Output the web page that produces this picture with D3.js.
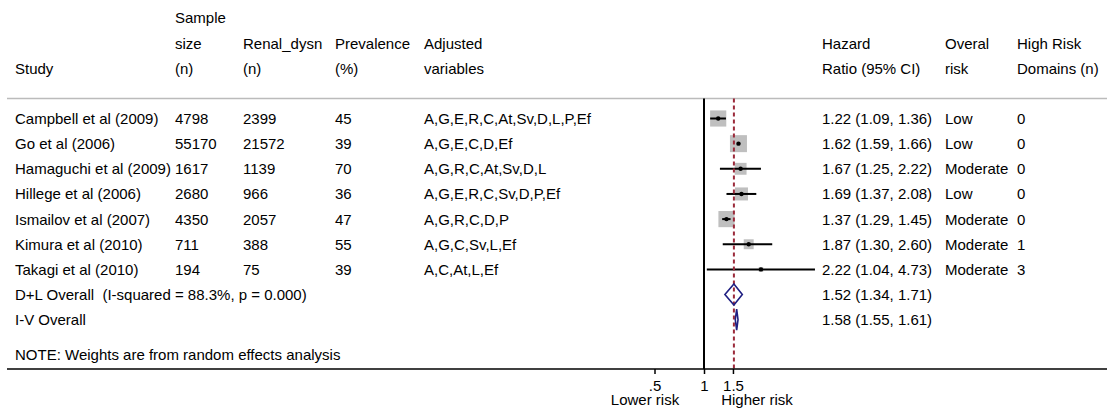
<!DOCTYPE html>
<html>
<head>
<meta charset="utf-8">
<script src="https://cdn.jsdelivr.net/npm/d3@7"></script>
<style>
  body { margin: 0; background: #fff; }
  svg text { font-family: Arial, "Liberation Sans", sans-serif; font-size: 15px; fill: #000; white-space: pre; }
</style>
</head>
<body>
<script>
// chart data
const studies = ['Campbell et al (2009)', 'Go et al (2006)', 'Hamaguchi et al (2009)', 'Hillege et al (2006)',
                 'Ismailov et al (2007)', 'Kimura et al (2010)', 'Takagi et al (2010)'];
const sampleSize = ['4798', '55170', '1617', '2680', '4350', '711', '194'];
const renalDysn = ['2399', '21572', '1139', '966', '2057', '388', '75'];
const prevalence = ['45', '39', '70', '36', '47', '55', '39'];
const adjusted = ['A,G,E,R,C,At,Sv,D,L,P,Ef', 'A,G,E,C,D,Ef', 'A,G,R,C,At,Sv,D,L', 'A,G,E,R,C,Sv,D,P,Ef',
                  'A,G,R,C,D,P', 'A,G,C,Sv,L,Ef', 'A,C,At,L,Ef'];
const hr = [1.22, 1.62, 1.67, 1.69, 1.37, 1.87, 2.22];
const lower = [1.09, 1.59, 1.25, 1.37, 1.29, 1.30, 1.04];
const upper = [1.36, 1.66, 2.22, 2.08, 1.45, 2.60, 4.73];
const weights = [18.5, 20.5, 10, 12, 18.5, 7, 1.5];
const overallRisk = ['Low', 'Low', 'Moderate', 'Low', 'Moderate', 'Moderate', 'Moderate'];
const highRiskDomains = ['0', '0', '0', '0', '0', '1', '3'];

const pooledLabels = ['D+L Overall  (I-squared = 88.3%, p = 0.000)', 'I-V Overall'];
const pooledHr = [1.52, 1.58];
const pooledLower = [1.34, 1.55];
const pooledUpper = [1.71, 1.61];

const headers = [
  { x: 15,   lines: ['', '', 'Study'] },
  { x: 175,  lines: ['Sample', 'size', '(n)'] },
  { x: 243,  lines: ['', 'Renal_dysn', '(n)'] },
  { x: 335,  lines: ['', 'Prevalence', '(%)'] },
  { x: 424,  lines: ['', 'Adjusted', 'variables'] },
  { x: 822,  lines: ['', 'Hazard', 'Ratio (95% CI)'] },
  { x: 945,  lines: ['', 'Overal', 'risk'] },
  { x: 1017, lines: ['', 'High Risk', 'Domains (n)'] }
];
const tickValues = [0.5, 1, 1.5];
const tickLabels = ['.5', '1', '1.5'];

const width = 1107, height = 408;
const svg = d3.select('body').append('svg').attr('width', width).attr('height', height);

const x = d3.scaleLog().domain([0.5, 1]).range([654.5, 704]);
const rowY = i => 118.5 + 25.15 * i;
const base = 5.4; // text baseline offset from visual centre
const fmt = d3.format('.2f');
const box = d3.scaleSqrt().domain([0, d3.max(weights)]).range([0, 17]);

const topY = 98.5, axisY = 369;

// header
headers.forEach(h => {
  h.lines.forEach((t, j) => {
    if (t) svg.append('text').attr('x', h.x).attr('y', 18 + 25.5 * j + base).text(t);
  });
});
svg.append('line').attr('x1', 7).attr('x2', width).attr('y1', topY).attr('y2', topY)
   .attr('stroke', '#bbbbbb').attr('stroke-width', 1.5);

// study text columns
const rows = svg.append('g').selectAll('g').data(studies).enter().append('g');
const cols = [
  [15, (d, i) => studies[i]], [175, (d, i) => sampleSize[i]], [243, (d, i) => renalDysn[i]],
  [335, (d, i) => prevalence[i]], [424, (d, i) => adjusted[i]],
  [822, (d, i) => `${fmt(hr[i])} (${fmt(lower[i])}, ${fmt(upper[i])})`],
  [945, (d, i) => overallRisk[i]], [1017, (d, i) => highRiskDomains[i]]
];
cols.forEach(([cx, f]) => {
  rows.append('text').attr('x', cx).attr('y', (d, i) => rowY(i) + base).text(f);
});

// pooled rows text
pooledLabels.forEach((lab, k) => {
  const y = rowY(studies.length + k) + base;
  svg.append('text').attr('x', 15).attr('y', y).text(lab);
  svg.append('text').attr('x', 822).attr('y', y)
     .text(`${fmt(pooledHr[k])} (${fmt(pooledLower[k])}, ${fmt(pooledUpper[k])})`);
});
svg.append('text').attr('x', 15).attr('y', 355 + base).text('NOTE: Weights are from random effects analysis');

// null line
svg.append('line').attr('x1', x(1)).attr('x2', x(1)).attr('y1', topY).attr('y2', axisY)
   .attr('stroke', '#000').attr('stroke-width', 2);

// boxes
const marks = svg.append('g');
marks.selectAll('rect').data(hr).enter().append('rect')
  .attr('x', (d, i) => x(d) - box(weights[i]) / 2)
  .attr('y', (d, i) => rowY(i) - box(weights[i]) / 2)
  .attr('width', (d, i) => box(weights[i]))
  .attr('height', (d, i) => box(weights[i]))
  .attr('fill', '#bfbfbf');

// overall dashed line
svg.append('line').attr('x1', x(pooledHr[0])).attr('x2', x(pooledHr[0])).attr('y1', topY).attr('y2', axisY)
   .attr('stroke', '#9b2a3a').attr('stroke-width', 2).attr('stroke-dasharray', '4,3');

// CI lines
marks.selectAll('line.ci').data(hr).enter().append('line').attr('class', 'ci')
  .attr('x1', (d, i) => x(lower[i])).attr('x2', (d, i) => x(upper[i]))
  .attr('y1', (d, i) => rowY(i)).attr('y2', (d, i) => rowY(i))
  .attr('stroke', '#000').attr('stroke-width', 2);
marks.selectAll('circle').data(hr).enter().append('circle')
  .attr('cx', d => x(d)).attr('cy', (d, i) => rowY(i)).attr('r', 2.2).attr('fill', '#000');

// diamonds
pooledHr.forEach((d, k) => {
  const cy = rowY(studies.length + k);
  const h = 10.5;
  const pts = [[x(pooledLower[k]), cy], [x(d), cy - h], [x(pooledUpper[k]), cy], [x(d), cy + h]];
  svg.append('path').attr('d', d3.line()(pts) + 'Z')
     .attr('fill', 'none').attr('stroke', '#1f1f82').attr('stroke-width', 1.6);
});

// x axis
svg.append('line').attr('x1', 7).attr('x2', width).attr('y1', axisY).attr('y2', axisY)
   .attr('stroke', '#000').attr('stroke-width', 1.5);
const axis = d3.axisBottom(x).tickValues(tickValues).tickSize(5).tickPadding(6)
  .tickFormat((d, i) => tickLabels[i]);
const ag = svg.append('g').attr('transform', `translate(0,${axisY})`).call(axis);
ag.select('.domain').remove();
ag.selectAll('line').attr('stroke-width', 1.5);
ag.selectAll('text').style('font-size', '15px').attr('font-family', null);

svg.append('text').attr('x', 645).attr('y', 400 + base).attr('text-anchor', 'middle').text('Lower risk');
svg.append('text').attr('x', 757).attr('y', 400 + base).attr('text-anchor', 'middle').text('Higher risk');
</script>
</body>
</html>
